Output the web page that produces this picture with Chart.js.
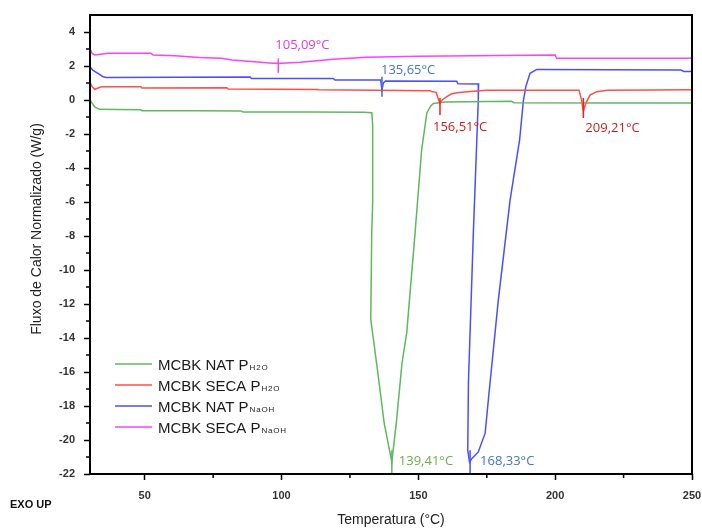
<!DOCTYPE html>
<html>
<head>
<meta charset="utf-8">
<script src="https://cdn.jsdelivr.net/npm/chart.js@4.4.0/dist/chart.umd.min.js"></script>
<style>
  html, body { margin: 0; padding: 0; background: #fff; }
</style>
</head>
<body>
<canvas id="dscChart" width="702" height="529"></canvas>
<script>
// DSC curves, temperature (°C) vs normalized heat flux (W/g)
const natH2oTemp = [30, 30.8, 31.7, 33.5, 40, 48.6, 49, 70, 85, 86, 110, 130, 133, 133.3, 133.4, 133.2, 132.96, 132.6, 135, 137.5, 140.3, 142, 144, 145.75, 148.8, 151.2, 153.1, 154.5, 155.5, 160, 184, 185, 220, 250];
const natH2oFlux = [0, -0.2, -0.4, -0.55, -0.56, -0.57, -0.63, -0.63, -0.64, -0.7, -0.71, -0.72, -0.75, -1.5, -3, -6, -7.8, -12.9, -15.8, -19, -21.3, -18.9, -15.5, -13.7, -7.8, -2.94, -0.76, -0.35, -0.2, -0.12, -0.08, -0.16, -0.17, -0.18];

const secaH2oTemp = [30, 30.7, 31.7, 34.1, 48.6, 49, 80, 80.5, 112.9, 113.5, 154.3, 154.8, 156.5, 157.2, 157.9, 158.7, 160.4, 162, 164, 168.9, 175, 208.7, 209.5, 210.3, 211.2, 212.7, 215.2, 219, 250];
const secaH2oFlux = [1.04, 0.8, 0.63, 0.78, 0.78, 0.7, 0.72, 0.64, 0.62, 0.6, 0.55, 0.5, 0.45, 0.1, -0.2, 0, 0.2, 0.35, 0.43, 0.5, 0.58, 0.58, 0.1, -0.65, -0.2, 0.29, 0.49, 0.58, 0.6];

const natNaohTemp = [30, 31, 32.9, 34.75, 36, 88.5, 89, 118.9, 119.5, 136.2, 136.7, 137.2, 138, 164, 164.5, 172, 171.9, 170.1, 168.3, 168.05, 168.7, 169.5, 171.9, 174.4, 175.6, 179.2, 183.5, 187, 188.4, 189.3, 190.8, 193.3, 220, 246, 247, 250];
const natNaohFlux = [1.96, 1.75, 1.57, 1.37, 1.33, 1.35, 1.27, 1.27, 1.18, 1.18, 0.6, 1.0, 1.12, 1.1, 0.95, 0.94, 0, -7.8, -16.6, -20.6, -21.3, -21.1, -20.7, -19.6, -17.6, -11.8, -5.9, -2.35, 0, 0.8, 1.57, 1.8, 1.78, 1.76, 1.68, 1.68];

const secaNaohTemp = [30, 30.7, 31.7, 36.6, 52.3, 53, 61, 70, 78, 82, 90, 97, 100, 106.8, 118.9, 131, 150, 200, 200.5, 250];
const secaNaohFlux = [3.04, 2.75, 2.65, 2.75, 2.75, 2.65, 2.6, 2.5, 2.45, 2.35, 2.25, 2.16, 2.16, 2.22, 2.39, 2.51, 2.58, 2.65, 2.45, 2.45];

const legendMain = ["MCBK NAT P", "MCBK SECA P", "MCBK NAT P", "MCBK SECA P"];
const legendSub = ["H2O", "H2O", "NaOH", "NaOH"];

// peak markers
const peakTemps = [98.8, 136.7, 157.9, 210.3, 140.3, 168.9];
const peakTop = [2.45, 1.37, 0.12, 0.12, -20.6, -20.6];
const peakBottom = [1.6, 0.19, -0.88, -1.06, -22, -22];
const peakLabels = ["105,09°C", "135,65°C", "156,51°C", "209,21°C", "139,41°C", "168,33°C"];

const xTickLabels = [50, 100, 150, 200, 250];

const lineColors = ["#5fb760", "#ff4d4d", "#4d4dff", "#ff40ff"];

function pts(t, f) {
  return t.map((v, i) => ({ x: v, y: f[i] }));
}

const peakStyle = [
  { line: "#ff40ff", text: "#e03ce0", dx: -3, ref: "top", dy: -13 },
  { line: "#3f6fd0", text: "#4472c4", dx: -1, ref: "top", dy: -6 },
  { line: "#ff1a1a", text: "#d01c1c", dx: -7, ref: "bottom", dy: 12 },
  { line: "#ff1a1a", text: "#d01c1c", dx: 2, ref: "bottom", dy: 10 },
  { line: "#5fb760", text: "#70ad47", dx: 7, ref: "bottom", dy: -13 },
  { line: "#4d4dff", text: "#4472c4", dx: 10, ref: "bottom", dy: -13 },
];

const peakMarks = {
  id: "peakMarks",
  afterDatasetsDraw(chart) {
    const { ctx, scales: { x, y } } = chart;
    ctx.save();
    ctx.font = '13px "Open Sans"';
    ctx.textBaseline = "middle";
    ctx.textAlign = "left";
    peakTemps.forEach((t, i) => {
      const s = peakStyle[i];
      const px = x.getPixelForValue(t);
      const top = y.getPixelForValue(peakTop[i]);
      const bot = y.getPixelForValue(peakBottom[i]);
      ctx.strokeStyle = s.line;
      ctx.lineWidth = 1.5;
      ctx.beginPath();
      ctx.moveTo(px, top);
      ctx.lineTo(px, bot);
      ctx.stroke();
      ctx.fillStyle = s.text;
      const yRef = s.ref === "top" ? top : bot;
      ctx.fillText(peakLabels[i], px + s.dx, yRef + s.dy);
    });
    ctx.restore();
  },
};

const frameAndExtras = {
  id: "frameAndExtras",
  afterDraw(chart) {
    const { ctx, chartArea: a, scales: { x, y } } = chart;
    ctx.save();
    // minor ticks
    ctx.strokeStyle = "#000";
    ctx.lineWidth = 1.5;
    ctx.beginPath();
    for (let v = 75; v < 250; v += 50) {
      const px = x.getPixelForValue(v);
      ctx.moveTo(px, a.bottom);
      ctx.lineTo(px, a.bottom + 4);
    }
    for (let v = -21; v < 5; v += 2) {
      const py = y.getPixelForValue(v);
      ctx.moveTo(a.left, py);
      ctx.lineTo(a.left - 4, py);
    }
    ctx.stroke();
    // frame
    ctx.lineWidth = 2;
    ctx.strokeRect(a.left, a.top, a.right - a.left, a.bottom - a.top);

    // legend
    legendMain.forEach((name, i) => {
      const yc = a.bottom - 110 + i * 21;
      ctx.strokeStyle = lineColors[i];
      ctx.lineWidth = 1.5;
      ctx.beginPath();
      ctx.moveTo(a.left + 25, yc);
      ctx.lineTo(a.left + 62, yc);
      ctx.stroke();
      ctx.fillStyle = "#1a1a1a";
      ctx.textAlign = "left";
      ctx.textBaseline = "alphabetic";
      ctx.font = '15px "Liberation Sans"';
      ctx.fillText(name, a.left + 68, yc + 5.5);
      const w = ctx.measureText(name).width;
      ctx.font = '8px "Liberation Sans"';
      ctx.letterSpacing = "0.8px";
      ctx.fillText(legendSub[i], a.left + 68 + w + 1, yc + 5.5);
      ctx.letterSpacing = "0px";
    });

    // y axis title
    ctx.save();
    ctx.translate(37, a.top + 214);
    ctx.rotate(-Math.PI / 2);
    ctx.font = '14px "Liberation Sans"';
    ctx.fillStyle = "#222";
    ctx.textAlign = "center";
    ctx.textBaseline = "middle";
    ctx.fillText("Fluxo de Calor Normalizado (W/g)", 0, 0);
    ctx.restore();

    // EXO UP
    ctx.font = 'bold 11px "Liberation Sans"';
    ctx.fillStyle = "#111";
    ctx.textAlign = "left";
    ctx.textBaseline = "middle";
    ctx.fillText("EXO UP", 10, 505);
    ctx.restore();
  },
};

const data = {
  datasets: [
    { label: "MCBK NAT PH2O", data: pts(natH2oTemp, natH2oFlux), borderColor: lineColors[0] },
    { label: "MCBK SECA PH2O", data: pts(secaH2oTemp, secaH2oFlux), borderColor: lineColors[1] },
    { label: "MCBK NAT PNaOH", data: pts(natNaohTemp, natNaohFlux), borderColor: lineColors[2] },
    { label: "MCBK SECA PNaOH", data: pts(secaNaohTemp, secaNaohFlux), borderColor: lineColors[3] },
  ],
};
data.datasets.forEach((d) => {
  d.borderWidth = 1.5;
  d.pointRadius = 0;
  d.tension = 0;
  d.fill = false;
});

const config = {
  type: "line",
  data: data,
  options: {
    responsive: false,
    animation: false,
    events: [],
    layout: { padding: { top: 15, right: 10, left: 0, bottom: 0 } },
    plugins: {
      legend: { display: false },
      tooltip: { enabled: false },
    },
    scales: {
      x: {
        type: "linear",
        min: 30,
        max: 250,
        afterFit: (s) => {
          s.height = 55;
          s.paddingLeft = 0;
          s.paddingRight = 0;
        },
        afterBuildTicks: (s) => { s.ticks = xTickLabels.map((v) => ({ value: v })); },
        border: { display: false },
        grid: {
          drawOnChartArea: false,
          tickLength: 6,
          tickWidth: 1.5,
          tickColor: "#000",
        },
        ticks: {
          padding: 9,
          maxRotation: 0,
          autoSkip: false,
          color: "#333",
          font: { family: "Liberation Sans", size: 11, weight: "bold" },
        },
        title: {
          display: true,
          text: "Temperatura (°C)",
          color: "#222",
          font: { family: "Liberation Sans", size: 14 },
          padding: { top: 0, bottom: 0 },
        },
      },
      y: {
        min: -22,
        max: 5,
        afterFit: (s) => {
          s.width = 90;
          s.paddingTop = 0;
          s.paddingBottom = 0;
        },
        border: { display: false },
        grid: {
          drawOnChartArea: false,
          tickLength: 6,
          tickWidth: 1.5,
          tickColor: (c) => (c.tick && c.tick.value === 5 ? "rgba(0,0,0,0)" : "#000"),
        },
        ticks: {
          stepSize: 2,
          padding: 9,
          autoSkip: false,
          color: "#333",
          font: { family: "Liberation Sans", size: 11, weight: "bold" },
          callback: (v) => (v === 5 ? "" : v),
        },
      },
    },
  },
  plugins: [peakMarks, frameAndExtras],
};

const dscChart = new Chart(document.getElementById("dscChart"), config);
</script>
</body>
</html>
